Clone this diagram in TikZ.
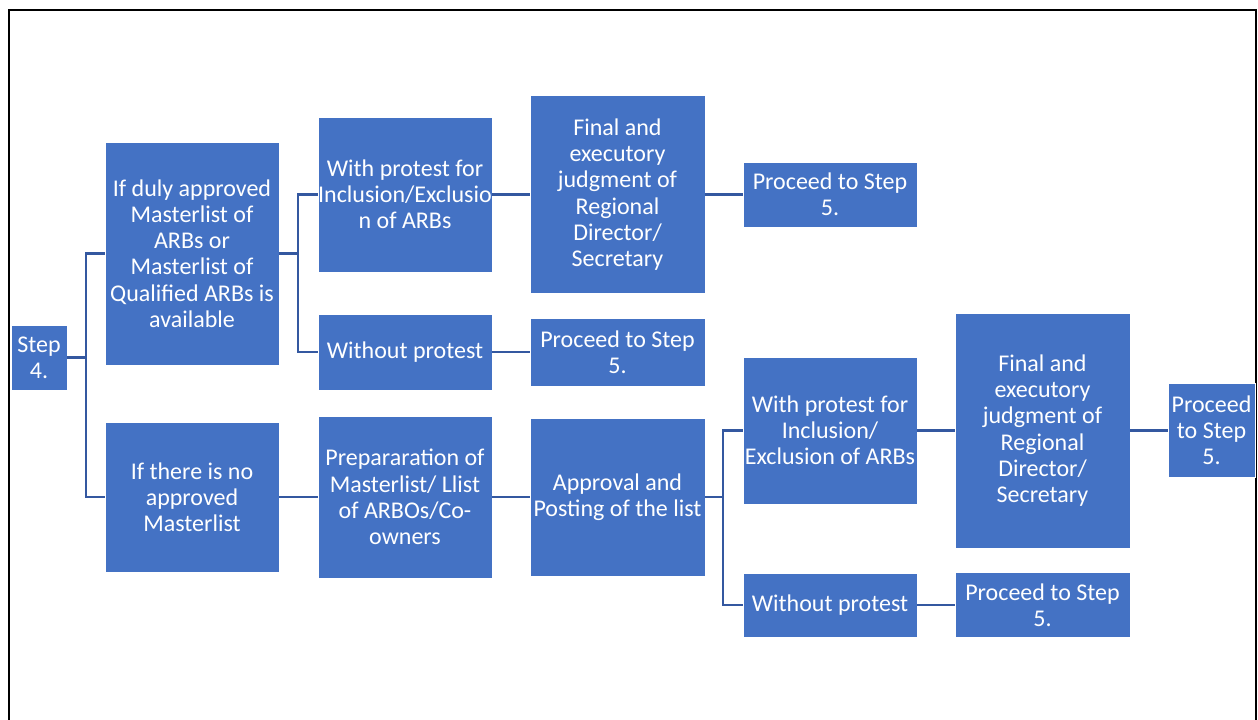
\documentclass[tikz,border=0pt]{standalone}
\usepackage{fontspec}
\setmainfont{Carlito}
\definecolor{boxblue}{RGB}{68,114,196}
\definecolor{linkblue}{RGB}{52,88,160}
\begin{document}
\begin{tikzpicture}[x=1pt,y=-1pt,
  box/.style={rectangle, fill=boxblue, draw=white, line width=0.8pt, text=white,
    align=center, inner sep=0pt, font=\fontsize{24}{26.2}\selectfont},
  link/.style={draw=linkblue, line width=2.4pt}]
\clip (0,0) rectangle (1258,720);
\useasboundingbox (0,0) rectangle (1258,720);
\draw[line width=2pt] (9,740) -- (9,10) -- (1256,10) -- (1256,740);

\node[box, minimum width=56pt, minimum height=65pt] (S) at (39,357.5) {Step\\4.};
\node[box, minimum width=174pt, minimum height=223pt] (A) at (192,253.5) {If duly approved\\Masterlist of\\ARBs or\\Masterlist of\\Qualified ARBs is\\available};
\node[box, minimum width=174pt, minimum height=150pt] (B) at (192,497) {If there is no\\approved\\Masterlist};
\node[box, minimum width=174pt, minimum height=155pt] (C) at (405,194.5) {With protest for\\Inclusion/Exclusio\\n of ARBs};
\node[box, minimum width=174pt, minimum height=76pt] (D) at (405,352) {Without protest};
\node[box, minimum width=175pt, minimum height=198pt] (E) at (617.5,194.5) {Final and\\executory\\judgment of\\Regional\\Director/\\Secretary};
\node[box, minimum width=174pt, minimum height=65pt] (F) at (830,194.5) {Proceed to Step\\5.};
\node[box, minimum width=175pt, minimum height=68pt] (G) at (617.5,352) {Proceed to Step\\5.};
\node[box, minimum width=174pt, minimum height=162pt] (H) at (405,497) {Prepararation of\\Masterlist/ Llist\\of ARBOs/Co-\\owners};
\node[box, minimum width=175pt, minimum height=158pt] (I) at (617.5,497) {Approval and\\Posting of the list};
\node[box, minimum width=174pt, minimum height=147pt] (J) at (830,430.5) {With protest for\\Inclusion/\\Exclusion of ARBs};
\node[box, minimum width=174pt, minimum height=64pt] (K) at (830,605) {Without protest};
\node[box, minimum width=175pt, minimum height=235pt] (L) at (1042.5,430.5) {Final and\\executory\\judgment of\\Regional\\Director/\\Secretary};
\node[box, minimum width=87pt, minimum height=94pt] (M) at (1211.5,430.5) {Proceed\\to Step\\5.};
\node[box, minimum width=175pt, minimum height=65pt] (N) at (1042.5,605) {Proceed to Step\\5.};

\coordinate (b1) at (86,357.5);
\coordinate (b2) at (298,253.5);
\coordinate (b3) at (723,497);

\draw[link] (S.east) -- (b1);
\draw[link] (A.west) -| (b1);
\draw[link] (B.west) -| (b1);
\draw[link] (A.east) -- (b2);
\draw[link] (C.west) -| (b2);
\draw[link] (D.west) -| (b2);
\draw[link] (C.east) -- (C.east -| E.west);
\draw[link] (E.east) -- (E.east -| F.west);
\draw[link] (D.east) -- (D.east -| G.west);
\draw[link] (B.east) -- (B.east -| H.west);
\draw[link] (H.east) -- (H.east -| I.west);
\draw[link] (I.east) -- (b3);
\draw[link] (J.west) -| (b3);
\draw[link] (K.west) -| (b3);
\draw[link] (J.east) -- (J.east -| L.west);
\draw[link] (L.east) -- (L.east -| M.west);
\draw[link] (K.east) -- (K.east -| N.west);
\end{tikzpicture}
\end{document}
